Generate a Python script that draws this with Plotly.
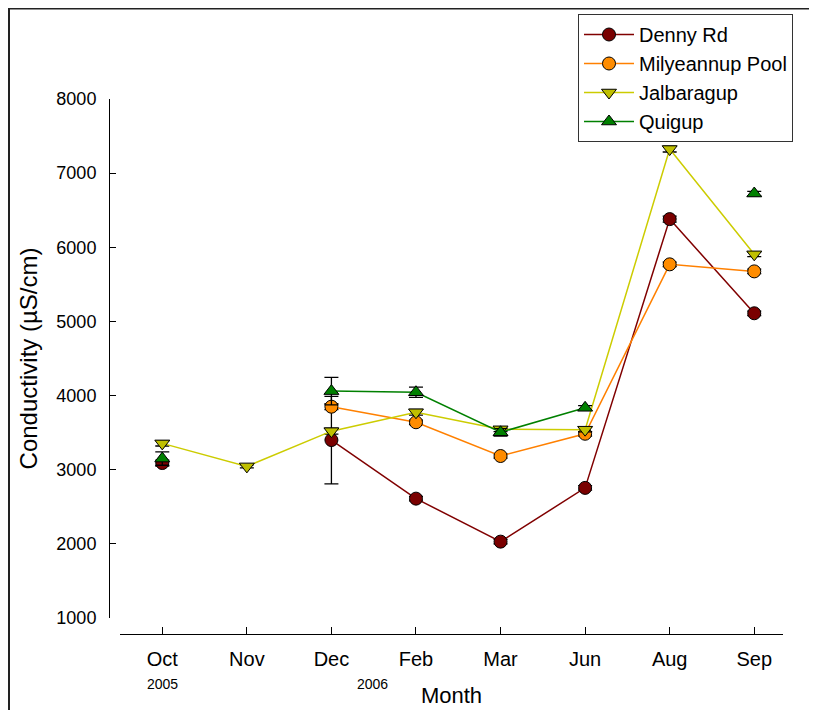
import plotly.graph_objects as go

months = ["Oct", "Nov", "Dec", "Feb", "Mar", "Jun", "Aug", "Sep"]
years = ["2005", "2006"]
year_at = ["Oct", "Dec"]

denny_rd = [3090, None, 3400, 2610, 2030, 2755, 6380, 5110]
denny_rd_err = [40, None, 590, 30, 30, 30, 40, 30]

milyeannup = [None, None, 3850, 3640, 3185, 3485, 5770, 5675]
milyeannup_err = [None, None, 40, 30, 30, 30, 30, 30]

jalbaragup = [3355, 3045, 3520, 3775, 3545, 3540, 7325, 5905]
jalbaragup_err = [35, 20, 40, 40, 30, 30, 40, 30]

quigup = [3150, None, 4060, 4045, 3505, 3835, None, 6725]
quigup_err = [90, None, 185, 70, 50, 30, None, 30]

series = [
    ("Denny Rd", denny_rd, denny_rd_err, "#800000", "#7a0000", "circle"),
    ("Milyeannup Pool", milyeannup, milyeannup_err, "#ff8000", "#ff8c00", "circle"),
    ("Jalbaragup", jalbaragup, jalbaragup_err, "#cccc00", "#bfbf00", "triangle-down"),
    ("Quigup", quigup, quigup_err, "#008000", "#008000", "triangle-up"),
]

sans = "Liberation Sans, Arial, Helvetica"

fig = go.Figure()

for name, vals, errs, line_col, marker_col, symbol in series:
    fig.add_trace(
        go.Scatter(
            x=months,
            y=vals,
            name=name,
            mode="lines+markers",
            connectgaps=False,
            line=dict(color=line_col, width=1.5),
            marker=dict(symbol=symbol, size=13, color=marker_col,
                        line=dict(color="black", width=1)),
            error_y=dict(type="data", array=[e if e is not None else 0 for e in errs],
                         visible=True, color="black", thickness=1.3, width=7),
        )
    )

# the page puts the figure 8px in from the top-left corner
FW, FH = 809, 702
L, R, T, B = 101, 17, 6, 76
W = FW - L - R
H = FH - T - B
x_axis_y = FH - B

for yr, m in zip(years, year_at):
    fig.add_annotation(
        x=m, y=(x_axis_y - 676) / H, xref="x", yref="paper", text=yr, showarrow=False,
        yanchor="middle",
        xshift=0 if yr == "2005" else 41,
        font=dict(family=sans, size=14, color="black"),
    )

# outer frame
fig.add_shape(type="rect", xref="paper", yref="paper",
              x0=(1 - L) / W, x1=1.2, y0=-0.3, y1=(x_axis_y - 0.5) / H,
              line=dict(color="#222222", width=2))

fig.update_layout(
    width=FW,
    height=FH,
    margin=dict(l=L, r=R, t=T, b=B),
    paper_bgcolor="white",
    plot_bgcolor="white",
    showlegend=True,
    legend=dict(
        x=(570 - L) / W, y=1, xanchor="left", yanchor="top",
        bordercolor="#333333", borderwidth=1, bgcolor="white",
        font=dict(family=sans, size=20, color="black"),
        itemwidth=50,
        tracegroupgap=0,
    ),
    xaxis=dict(
        type="category",
        categoryorder="array",
        categoryarray=months,
        range=[-0.5, 7.34],
        domain=[(112 - L) / W, (775 - L) / W],
        anchor="free",
        position=0,
        automargin=False,
        showline=True,
        linecolor="black",
        linewidth=1,
        ticks="inside",
        ticklen=7,
        tickcolor="black",
        showgrid=False,
        zeroline=False,
        tickfont=dict(family=sans, size=20, color="black"),
        ticklabelstandoff=7,
        title=dict(text="Month", font=dict(family=sans, size=22, color="black"), standoff=18),
    ),
    yaxis=dict(
        range=[1000, 8000],
        domain=[(x_axis_y - 610) / H, (x_axis_y - 91) / H],
        anchor="free",
        position=0,
        automargin=False,
        dtick=1000,
        showline=True,
        linecolor="black",
        linewidth=1,
        ticks="inside",
        ticklen=6,
        tickcolor="black",
        showgrid=False,
        zeroline=False,
        tickfont=dict(family=sans, size=18, color="black"),
        ticklabelstandoff=9,
        title=dict(text="Conductivity (µS/cm)", font=dict(family=sans, size=24, color="black"), standoff=10),
    ),
)

fig.write_html("out.html")
